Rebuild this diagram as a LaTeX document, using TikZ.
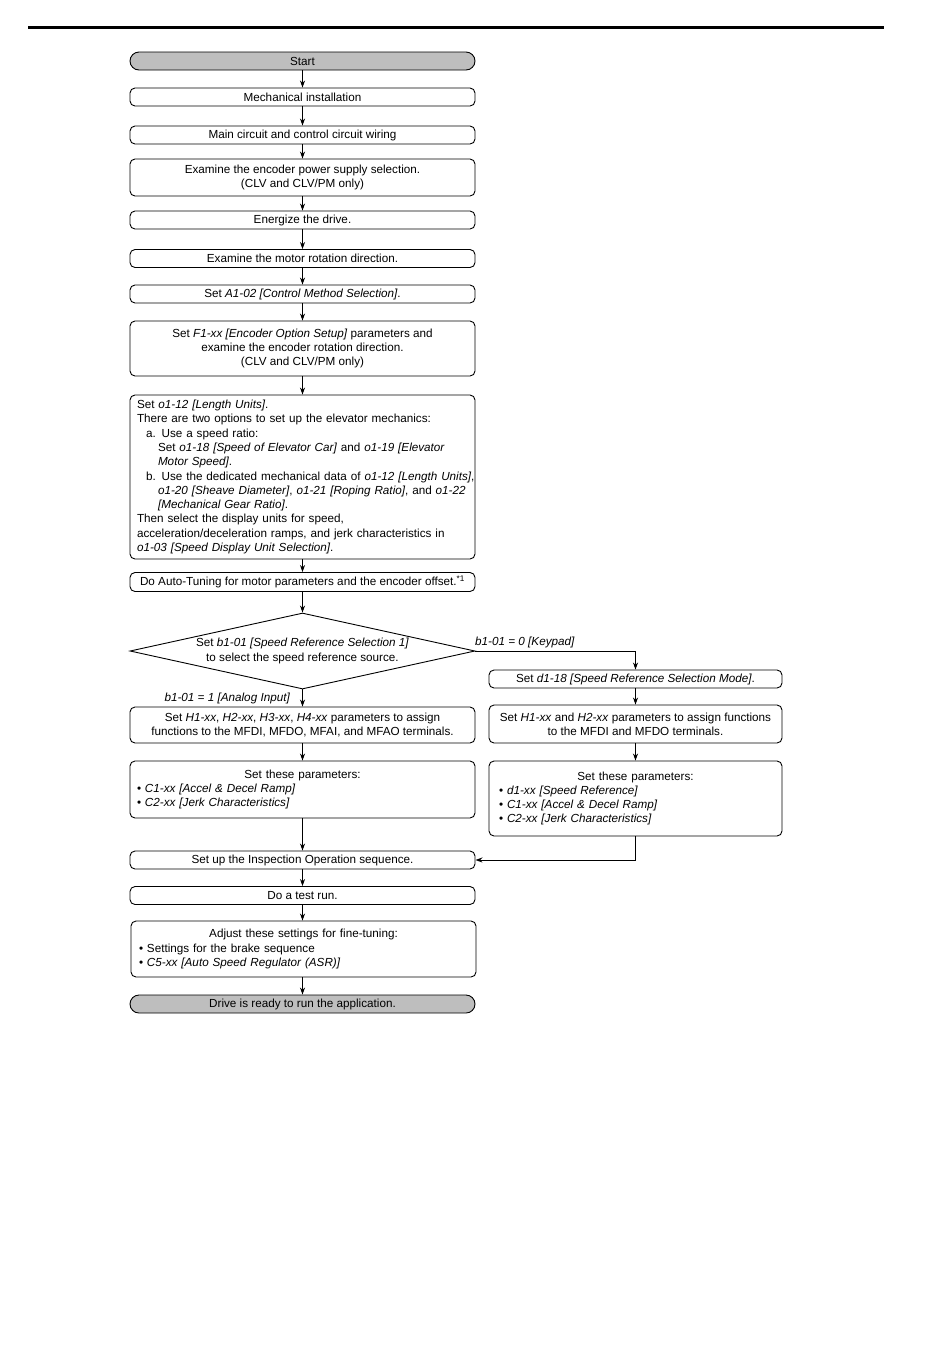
\documentclass[tikz,border=0pt]{standalone}
\usepackage{fontspec}
\setmainfont{Liberation Sans}
\usetikzlibrary{shapes.geometric,arrows.meta}
\definecolor{termgray}{RGB}{190,190,190}
\begin{document}
\begin{tikzpicture}[x=1pt,y=-1pt,
  font=\fontsize{11.7}{14.3}\selectfont,
  box/.style={draw, line width=0.9pt, rounded corners=5pt, inner sep=0pt, minimum width=345pt, align=center},
  rbox/.style={box, minimum width=293pt},
  term/.style={box, fill=termgray, rounded corners=9pt},
  arr/.style={line width=0.9pt, -{Stealth[length=7pt,width=5pt]}},
  lbl/.style={inner sep=0pt, font=\fontsize{11.7}{14.3}\selectfont\itshape}
  ]
\useasboundingbox (0,0) rectangle (950,1369);
\coordinate (ruleL) at (28,27);
\coordinate (ruleR) at (884,27);
\draw[line width=3pt] (ruleL) -- (ruleR);

\node[term, minimum height=18pt] (start) at (302.5,61) {Start};
\node[box, minimum height=18pt] (mech) at (302.5,97) {Mechanical installation};
\node[box, minimum height=18pt] (wire) at (302.5,135) {Main circuit and control circuit wiring};
\node[box, minimum height=37pt] (enc) at (302.5,177.5) {Examine the encoder power supply selection.\\(CLV and CLV/PM only)};
\node[box, minimum height=18pt] (energ) at (302.5,220) {Energize the drive.};
\node[box, minimum height=18pt] (motor) at (302.5,258.5) {Examine the motor rotation direction.};
\node[box, minimum height=18pt] (a102) at (302.5,294) {Set \textit{A1-02 [Control Method Selection]}.};
\node[box, minimum height=55pt] (f1) at (302.5,348.5) {Set \textit{F1-xx [Encoder Option Setup]} parameters and\\examine the encoder rotation direction.\\(CLV and CLV/PM only)};
\node[box, minimum height=164pt, text width=331pt, align=left] (o112) at (302.5,477) {%
\mbox{Set \textit{o1-12 [Length Units]}.}\\
\mbox{There are two options to set up the elevator mechanics:}\\
\mbox{\hspace*{9pt}a. Use a speed ratio:}\\
\mbox{\hspace*{21pt}Set \textit{o1-18 [Speed of Elevator Car]} and \textit{o1-19 [Elevator}}\\
\mbox{\hspace*{21pt}\textit{Motor Speed]}.}\\
\mbox{\hspace*{9pt}b. Use the dedicated mechanical data of \textit{o1-12 [Length Units]},}\\
\mbox{\hspace*{21pt}\textit{o1-20 [Sheave Diameter]}, \textit{o1-21 [Roping Ratio]}, and \textit{o1-22}}\\
\mbox{\hspace*{21pt}\textit{[Mechanical Gear Ratio]}.}\\
\mbox{Then select the display units for speed,}\\
\mbox{acceleration/deceleration ramps, and jerk characteristics in}\\
\mbox{\textit{o1-03 [Speed Display Unit Selection]}.}};
\node[box, minimum height=19pt] (auto) at (302.5,582) {Do Auto-Tuning for motor parameters and the encoder offset.\textsuperscript{*1}};
\node[diamond, draw, line width=0.9pt, inner sep=0pt, minimum width=345pt, minimum height=76pt, aspect=4.54, align=center] (dec) at (302.5,651) {Set \textit{b1-01 [Speed Reference Selection 1]}\\to select the speed reference source.};
\node[box, minimum height=36pt] (h1) at (302.5,725) {Set \textit{H1-xx}, \textit{H2-xx}, \textit{H3-xx}, \textit{H4-xx} parameters to assign\\functions to the MFDI, MFDO, MFAI, and MFAO terminals.};
\node[box, minimum height=57pt, text width=331pt, align=left] (cpar) at (302.5,789.5) {%
\makebox[331pt][c]{Set these parameters:}\\
\textbullet\ \textit{C1-xx [Accel \& Decel Ramp]}\\
\textbullet\ \textit{C2-xx [Jerk Characteristics]}};
\node[box, minimum height=18pt] (insp) at (302.5,860) {Set up the Inspection Operation sequence.};
\node[box, minimum height=18pt] (test) at (302.5,895.5) {Do a test run.};
\node[box, minimum height=56pt, text width=329pt, align=left] (adj) at (303.5,949) {%
\makebox[329pt][c]{Adjust these settings for fine-tuning:}\\
\textbullet\ Settings for the brake sequence\\
\textbullet\ \textit{C5-xx [Auto Speed Regulator (ASR)]}};
\node[term, minimum height=18pt] (fin) at (302.5,1004) {Drive is ready to run the application.};

\node[rbox, minimum height=18pt] (d118) at (635.5,679) {Set \textit{d1-18 [Speed Reference Selection Mode]}.};
\node[rbox, minimum height=38pt] (h12) at (635.5,724) {Set \textit{H1-xx} and \textit{H2-xx} parameters to assign functions\\to the MFDI and MFDO terminals.};
\node[rbox, minimum height=75pt, text width=273pt, align=left] (rpar) at (635.5,798.5) {%
\makebox[273pt][c]{Set these parameters:}\\
\textbullet\ \textit{d1-xx [Speed Reference]}\\
\textbullet\ \textit{C1-xx [Accel \& Decel Ramp]}\\
\textbullet\ \textit{C2-xx [Jerk Characteristics]}};

\node[lbl, anchor=base west] (lk) at (475,645) {b1-01 = 0 [Keypad]};
\node[lbl, anchor=base east] (la) at (290,701) {b1-01 = 1 [Analog Input]};

\draw[arr] (start) -- (mech);
\draw[arr] (mech) -- (wire);
\draw[arr] (wire) -- (enc);
\draw[arr] (enc) -- (energ);
\draw[arr] (energ) -- (motor);
\draw[arr] (motor) -- (a102);
\draw[arr] (a102) -- (f1);
\draw[arr] (f1) -- (o112);
\draw[arr] (o112) -- (auto);
\draw[arr] (auto) -- (dec);
\draw[arr] (dec.south) -- (h1);
\draw[arr] (h1) -- (cpar);
\draw[arr] (cpar) -- (insp);
\draw[arr] (insp) -- (test);
\draw[arr] (test) -- (adj.north -| test);
\draw[arr] (adj.south -| fin) -- (fin);
\draw[arr] (dec.east) -| (d118.north);
\draw[arr] (d118) -- (h12);
\draw[arr] (h12) -- (rpar);
\draw[arr] (rpar.south) |- (insp.east);
\end{tikzpicture}
\end{document}
